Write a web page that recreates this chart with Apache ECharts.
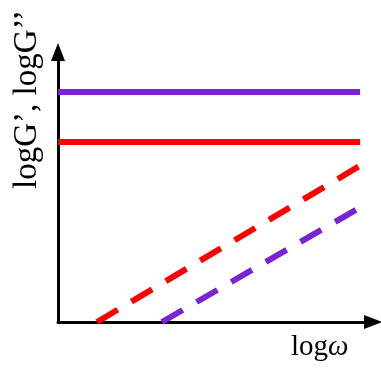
<!DOCTYPE html>
<html><head><meta charset="utf-8">
<script src="https://cdn.jsdelivr.net/npm/echarts@6/dist/echarts.min.js"></script>
<style>html,body{margin:0;padding:0;background:#fff}#c{width:381px;height:368px}</style>
</head><body><div id="c"></div>
<script>
// Schematic values (arbitrary units, axis 0..10)
const storageSolid = [[0, 8.52], [9.59, 8.52]];      // purple solid (G')
const redSolid = [[0, 6.67], [9.59, 6.67]];          // red solid (G')
const redDashed = [[1.24, 0], [9.62, 5.81]];         // red dashed (G'')
const purpleDashed = [[3.30, 0], [9.62, 4.26]];      // purple dashed (G'')
const xLabel = 'log';
const yLabel = 'logG’, logG’’';

const chart = echarts.init(document.getElementById('c'));
const purple = '#7a22d6', red = '#ff0000';
function line(data, color, dashed) {
  return {type: 'line', data, symbol: 'none', silent: true,
    lineStyle: {color, width: 6, type: dashed ? [24, 16] : 'solid', cap: 'butt'}};
}
chart.setOption({
  animation: false,
  grid: {left: 58, right: 8, top: 52, bottom: 46},
  xAxis: {type: 'value', min: 0, max: 10, splitLine: {show: false}, axisTick: {show: false}, axisLabel: {show: false},
    axisLine: {lineStyle: {color: '#000', width: 3}, symbol: ['none', 'triangle'], symbolSize: [14, 18]}},
  yAxis: {type: 'value', min: 0, max: 10, splitLine: {show: false}, axisTick: {show: false}, axisLabel: {show: false},
    axisLine: {lineStyle: {color: '#000', width: 3}, symbol: ['none', 'triangle'], symbolSize: [14, 18]}},
  series: [line(storageSolid, purple), line(redSolid, red), line(redDashed, red, true), line(purpleDashed, purple, true)],
  graphic: [
    {type: 'text', left: 291, top: 333, style: {
      text: '{a|' + xLabel + '}{b|ω}', rich: {
        a: {fontFamily: 'Liberation Serif', fontSize: 29, fill: '#000'},
        b: {fontFamily: 'Liberation Serif', fontStyle: 'italic', fontSize: 29, fill: '#000'}}}},
    {type: 'text', x: 11, y: 189, rotation: Math.PI / 2, style: {
      text: yLabel, fontFamily: 'Liberation Serif', fontSize: 33, fill: '#000', textVerticalAlign: 'top'}}
  ]
});
</script></body></html>
